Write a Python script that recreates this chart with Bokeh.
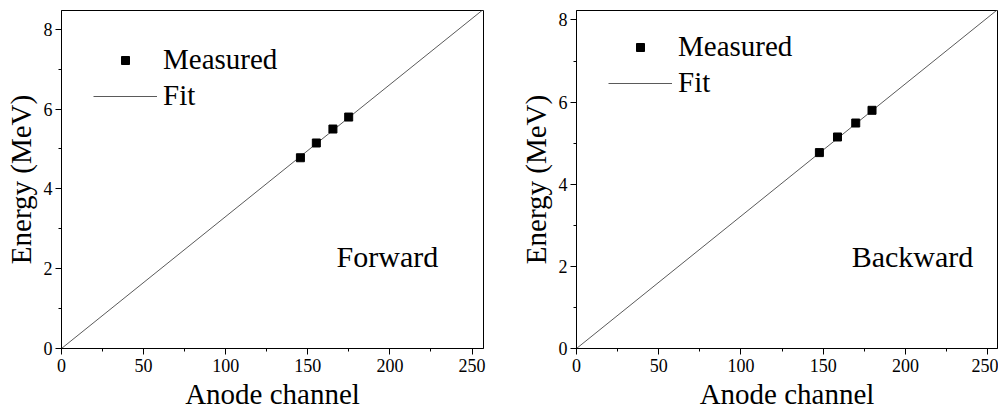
from bokeh.plotting import figure
from bokeh.models import Range1d, SingleIntervalTicker, Legend, LegendItem
from bokeh.layouts import row
from bokeh.embed import file_html
from bokeh.resources import INLINE
from bokeh.core.properties import value

# ---- data ----
fwd_channel = [145.5, 155.2, 165.3, 174.9]
fwd_energy = [4.78, 5.15, 5.50, 5.80]
fwd_fit_x = [0, 257]
fwd_fit_y = [0, 8.50]

bwd_channel = [147.7, 158.7, 169.8, 179.7]
bwd_energy = [4.77, 5.15, 5.49, 5.80]
bwd_fit_x = [0, 256]
bwd_fit_y = [0, 8.25]

panel_names = ["Forward", "Backward"]
x_label = "Anode channel"
y_label = "Energy (MeV)"
legend_labels = ["Measured", "Fit"]

FONT = "Liberation Serif"


def make_panel(chx, en, fx, fy, name, xmax, ymax, fw, border_left, border_right,
               legend_xy, name_xy):
    p = figure(frame_width=fw, frame_height=338, output_backend="svg", toolbar_location=None,
               x_range=Range1d(0, xmax), y_range=Range1d(0, ymax),
               min_border_left=border_left, min_border_right=border_right,
               min_border_top=10, min_border_bottom=0)
    p.grid.visible = False
    p.outline_line_color = "black"
    p.outline_line_width = 1
    p.background_fill_color = "white"
    p.border_fill_color = "white"

    p.xaxis.ticker = SingleIntervalTicker(interval=50, num_minor_ticks=2)
    p.yaxis.ticker = SingleIntervalTicker(interval=2, num_minor_ticks=2)
    for ax in (p.xaxis[0], p.yaxis[0]):
        ax.axis_line_color = "black"
        ax.major_tick_line_color = "black"
        ax.minor_tick_line_color = "black"
        ax.major_tick_in = 0
        ax.major_tick_out = 6
        ax.minor_tick_in = 0
        ax.minor_tick_out = 3
        ax.major_label_text_font = FONT
        ax.major_label_text_font_size = "18px"
        ax.major_label_text_color = "black"
        ax.axis_label_text_font = FONT
        ax.axis_label_text_font_size = "29px"
        ax.axis_label_text_font_style = "normal"
        ax.axis_label_text_color = "black"
    p.xaxis.axis_label = x_label
    p.yaxis.axis_label = y_label
    p.xaxis.major_label_standoff = 4
    p.xaxis.axis_label_standoff = 3
    p.yaxis.major_label_standoff = 3
    p.yaxis.axis_label_standoff = 4

    fit = p.line(fx, fy, line_color="#5a5a5a", line_width=1)
    pts = p.scatter(chx, en, marker="square", size=8, fill_color="black", line_color="black")

    p.text(x=[name_xy[0]], y=[name_xy[1]], text=[name], text_font=value(FONT),
           text_font_size="30px", text_color="black", text_baseline="middle",
           text_align="left")

    legend = Legend(items=[LegendItem(label=legend_labels[0], renderers=[pts]),
                           LegendItem(label=legend_labels[1], renderers=[fit])],
                    location=legend_xy, glyph_width=64, glyph_height=20,
                    label_text_font=FONT, label_text_font_size="29px",
                    label_text_color="black",
                    label_standoff=6, spacing=3, padding=0, margin=0,
                    border_line_alpha=0, background_fill_alpha=0)
    p.add_layout(legend, "center")
    return p


p1 = make_panel(fwd_channel, fwd_energy, fwd_fit_x, fwd_fit_y, panel_names[0],
                257, 8.47, 422, 61, 17, (32, 236), (167.5, 2.3))
p2 = make_panel(bwd_channel, bwd_energy, bwd_fit_x, bwd_fit_y, panel_names[1],
                256, 8.23, 421, 76, 1, (32, 249), (167.3, 2.23))

layout = row(p1, p2)
open("out.html", "w").write(file_html(layout, INLINE))
